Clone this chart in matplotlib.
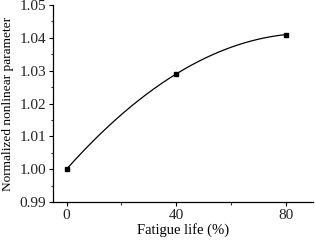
import numpy as np
import matplotlib
matplotlib.use("Agg")
import matplotlib.pyplot as plt
from matplotlib.ticker import MultipleLocator

plt.rcParams['font.family'] = ['Liberation Serif', 'DejaVu Serif']
plt.rcParams['text.color'] = '#222222'
plt.rcParams['xtick.labelcolor'] = '#222222'
plt.rcParams['ytick.labelcolor'] = '#222222'

# data
fatigue = [0, 40, 80]
param = [1.000, 1.029, 1.041]

fig = plt.figure(figsize=(3.15, 2.41), dpi=100)
ax = fig.add_axes([0.168, 0.162, 0.826, 0.817])

# smooth curve through the three points (quadratic)
coef = np.polyfit(fatigue, param, 2)
xs = np.linspace(fatigue[0], fatigue[-1], 200)
ax.plot(xs, np.polyval(coef, xs), color='black', lw=0.9)
ax.plot(fatigue, param, 's', color='black', markersize=3)

ax.set_xlim(-5, 90)
ax.set_ylim(0.99, 1.05)
ax.xaxis.set_major_locator(MultipleLocator(40))
ax.xaxis.set_minor_locator(MultipleLocator(20))
ax.yaxis.set_major_locator(MultipleLocator(0.01))
ax.yaxis.set_minor_locator(MultipleLocator(0.005))
ax.yaxis.set_major_formatter(plt.FormatStrFormatter('%.2f'))

for s in ['top', 'right']:
    ax.spines[s].set_visible(False)
for s in ['left', 'bottom']:
    ax.spines[s].set_linewidth(0.9)
ax.tick_params(which='major', direction='out', length=3, width=0.8, labelsize=11, pad=2)
ax.tick_params(which='minor', direction='out', length=1.8, width=0.6)

ax.set_xlabel('Fatigue life (%)', fontsize=10.5, labelpad=1)
ax.set_ylabel('Normalized nonlinear parameter', fontsize=9.6, labelpad=4)

fig.savefig('out.png', dpi=100)
